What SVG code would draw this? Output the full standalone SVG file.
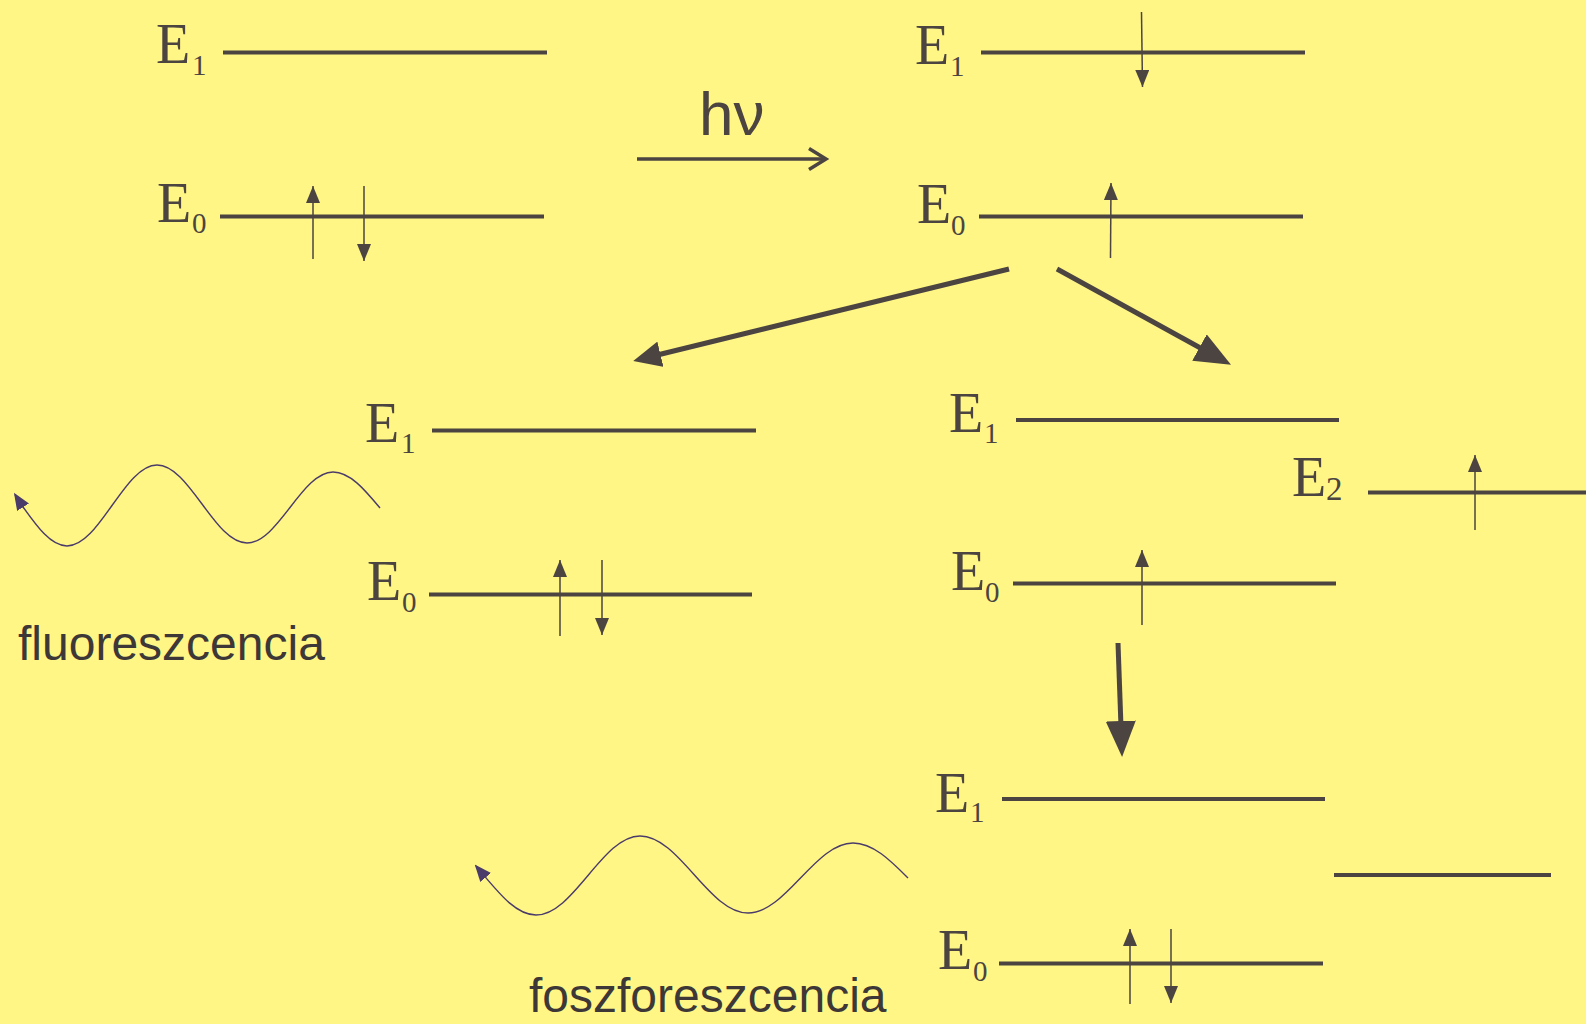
<svg xmlns="http://www.w3.org/2000/svg" width="1586" height="1024" viewBox="0 0 1586 1024">
<style>
.lvl{stroke:#4b4441;stroke-width:4;fill:none}
.spin{stroke:#4b4441;stroke-width:1.5;fill:none;marker-end:url(#spinHead)}
.E{font-family:"Liberation Serif","Times New Roman",serif;font-size:56px;fill:#4b4441}
.sub{font-family:"Liberation Serif","Times New Roman",serif;font-size:29px;fill:#4b4441}
.lbl{font-family:"Liberation Sans",Arial,sans-serif;font-size:48px;fill:#3d3837}
.big{stroke:#4b4441;stroke-width:5;fill:none}
.wave{stroke:#4a3b6b;stroke-width:1.4;fill:none;marker-end:url(#waveHead)}
</style>
<defs>
<marker id="spinHead" markerUnits="userSpaceOnUse" viewBox="0 0 17 14" markerWidth="17" markerHeight="14" refX="17" refY="7" orient="auto"><path d="M0,0 L17,7 L0,14 Z" fill="#4b4441"/></marker>
<marker id="bigHead" markerUnits="userSpaceOnUse" viewBox="0 0 36 30" markerWidth="36" markerHeight="30" refX="28" refY="15" orient="auto"><path d="M0,0 L36,15 L0,30 Z" fill="#4b4441"/></marker>
<marker id="smallHead" markerUnits="userSpaceOnUse" viewBox="0 0 28 26" markerWidth="28" markerHeight="26" refX="20" refY="13" orient="auto"><path d="M0,0 L28,13 L0,26 Z" fill="#4b4441"/></marker>
<marker id="openHead" markerUnits="userSpaceOnUse" viewBox="0 0 24 26" markerWidth="24" markerHeight="26" refX="18" refY="13" orient="auto" overflow="visible"><path d="M1,2.5 L18,13 L1,23.5" fill="none" stroke="#4b4441" stroke-width="3.5"/></marker>
<marker id="waveHead" markerUnits="userSpaceOnUse" viewBox="0 0 17 14" markerWidth="17" markerHeight="14" refX="15" refY="7" orient="auto"><path d="M0,0 L17,7 L0,14 Z" fill="#4a3b6b"/></marker>
</defs>
<rect x="0" y="0" width="1586" height="1024" fill="#fff685"/>

<g id="state-ground">
<text class="E" x="156" y="63">E</text><text class="sub" x="192" y="75">1</text>
<line class="lvl" x1="223" y1="52.5" x2="547" y2="52.5"/>
<text class="E" x="157" y="222">E</text><text class="sub" x="192" y="233">0</text>
<line class="lvl" x1="220" y1="216.5" x2="544" y2="216.5"/>
<line class="spin" x1="313" y1="259" x2="313" y2="186"/>
<line class="spin" x1="364" y1="186" x2="364" y2="261"/>
</g>

<g id="state-excited">
<text class="E" x="915" y="64">E</text><text class="sub" x="950" y="76">1</text>
<line class="lvl" x1="981" y1="52.5" x2="1305" y2="52.5"/>
<text class="E" x="917" y="223">E</text><text class="sub" x="951" y="235">0</text>
<line class="lvl" x1="979" y1="216.5" x2="1303" y2="216.5"/>
<line class="spin" x1="1141.5" y1="12" x2="1142.5" y2="87"/>
<line class="spin" x1="1110.5" y1="258" x2="1111" y2="183"/>
</g>

<g id="state-fluorescence">
<text class="E" x="365" y="442">E</text><text class="sub" x="401" y="453">1</text>
<line class="lvl" x1="432" y1="430.5" x2="756" y2="430.5"/>
<text class="E" x="367" y="600">E</text><text class="sub" x="402" y="612">0</text>
<line class="lvl" x1="429" y1="594.5" x2="752" y2="594.5"/>
<line class="spin" x1="560" y1="636" x2="560" y2="560"/>
<line class="spin" x1="602" y1="560" x2="602" y2="635"/>
</g>

<g id="state-triplet">
<text class="E" x="949" y="432">E</text><text class="sub" x="984" y="443">1</text>
<line class="lvl" x1="1016" y1="420" x2="1339" y2="420"/>
<text class="E" x="1292" y="496">E</text><text class="sub" x="1326" y="500" style="font-size:33px">2</text>
<line class="lvl" x1="1368" y1="492.5" x2="1586" y2="492.5"/>
<line class="spin" x1="1475" y1="530" x2="1475" y2="455"/>
<text class="E" x="951" y="590">E</text><text class="sub" x="985" y="602">0</text>
<line class="lvl" x1="1013" y1="583.5" x2="1336" y2="583.5"/>
<line class="spin" x1="1142" y1="625" x2="1142" y2="550"/>
</g>

<g id="state-phosphorescence">
<text class="E" x="935" y="812">E</text><text class="sub" x="970" y="822">1</text>
<line class="lvl" x1="1002" y1="799" x2="1325" y2="799"/>
<line class="lvl" x1="1334" y1="875" x2="1551" y2="875"/>
<text class="E" x="938" y="969">E</text><text class="sub" x="973" y="981">0</text>
<line class="lvl" x1="999" y1="963.5" x2="1323" y2="963.5"/>
<line class="spin" x1="1130" y1="1004" x2="1130" y2="929"/>
<line class="spin" x1="1171" y1="929" x2="1171" y2="1003"/>
</g>

<g id="connectors">
<line x1="637" y1="159" x2="826" y2="159" stroke="#4b4441" stroke-width="3.5" marker-end="url(#openHead)"/>
<line class="big" x1="1009" y1="269" x2="641" y2="359" marker-end="url(#smallHead)"/>
<line class="big" x1="1057" y1="269" x2="1224" y2="361" marker-end="url(#bigHead)"/>
<line class="big" x1="1118" y1="643" x2="1121.8" y2="749" marker-end="url(#bigHead)"/>
</g>

<g id="label-hv">
<text x="699" y="135" style="font-family:'Liberation Sans',Arial,sans-serif;font-size:62px;fill:#4b4441">hν</text>
</g>

<g id="emission-fluorescence">
<path class="wave" d="M380,508 C364.7,489.6 350,472 333,472 C301.8,472 278.2,543 247,543 C214.3,543 189.7,465 157,465 C124.3,465 99.7,546 67,546 C50.7,546 36.7,526.2 22,505.5 L15,494.5"/>
<text class="lbl" x="18" y="660">fluoreszcencia</text>
</g>

<g id="emission-phosphorescence">
<path class="wave" d="M908,878 C890.1,860.1 872.9,843 853,843 C814.9,843 786.1,913 748,913 C708.8,913 679.2,836 640,836 C602.2,836 573.8,915 536,915 C517.2,915 501,895.7 484,875.5 L476,866"/>
<text class="lbl" x="529" y="1012">foszforeszcencia</text>
</g>
</svg>
